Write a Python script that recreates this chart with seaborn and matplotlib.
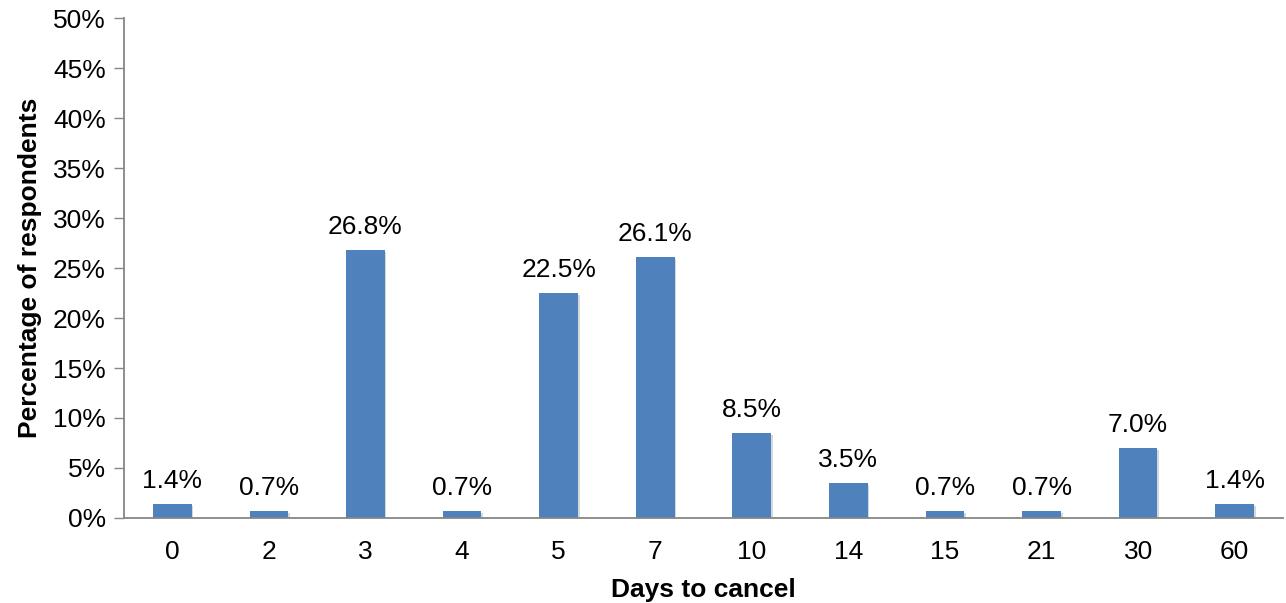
import matplotlib
matplotlib.use("Agg")
import matplotlib.pyplot as plt
import matplotlib.patheffects as pe
import seaborn as sns
import pandas as pd
from matplotlib.ticker import FuncFormatter

days = ["0", "2", "3", "4", "5", "7", "10", "14", "15", "21", "30", "60"]
share = [1.4, 0.7, 26.8, 0.7, 22.5, 26.1, 8.5, 3.5, 0.7, 0.7, 7.0, 1.4]

sns.set_theme(style="white")
plt.rcParams["font.family"] = ["Liberation Sans", "DejaVu Sans"]

df = pd.DataFrame({"days": days, "share": share})

fig = plt.figure(figsize=(12.86, 6.03), dpi=100)
ax = fig.add_axes([0.0964, 0.141, 0.9013, 0.829])

sns.barplot(data=df, x="days", y="share", order=days, color="#4F81BD",
            saturation=1, width=0.4, linewidth=0, edgecolor="none", ax=ax)

for bar in ax.patches:
    bar.set_path_effects([pe.SimplePatchShadow(offset=(1.2, -1.2), alpha=0.18),
                          pe.Normal()])

for bar, v in zip(ax.patches, share):
    ax.annotate(f"{v:.1f}%", (bar.get_x() + bar.get_width() / 2, v),
                xytext=(0, 8), textcoords="offset points",
                ha="center", va="bottom", fontsize=19, color="black")

ax.set_ylim(0, 50)
ax.set_yticks(range(0, 51, 5))
ax.yaxis.set_major_formatter(FuncFormatter(lambda y, _: f"{int(y)}%"))
ax.set_xlim(-0.5, len(days) - 0.5)

ax.tick_params(axis="y", length=7, width=1, color="#868686", labelsize=19,
               labelcolor="black", pad=6, left=True, direction="out")
ax.tick_params(axis="x", length=0, labelsize=19, labelcolor="black", pad=16)

for s in ["top", "right"]:
    ax.spines[s].set_visible(False)
for s in ["left", "bottom"]:
    ax.spines[s].set_color("#868686")
    ax.spines[s].set_linewidth(1.3)

ax.set_xlabel("Days to cancel", fontsize=19, fontweight="bold",
              color="black", labelpad=10)
ax.set_ylabel("Percentage of respondents", fontsize=19, fontweight="bold",
              color="black", labelpad=8)

fig.savefig("out.png", dpi=100, facecolor="white")
